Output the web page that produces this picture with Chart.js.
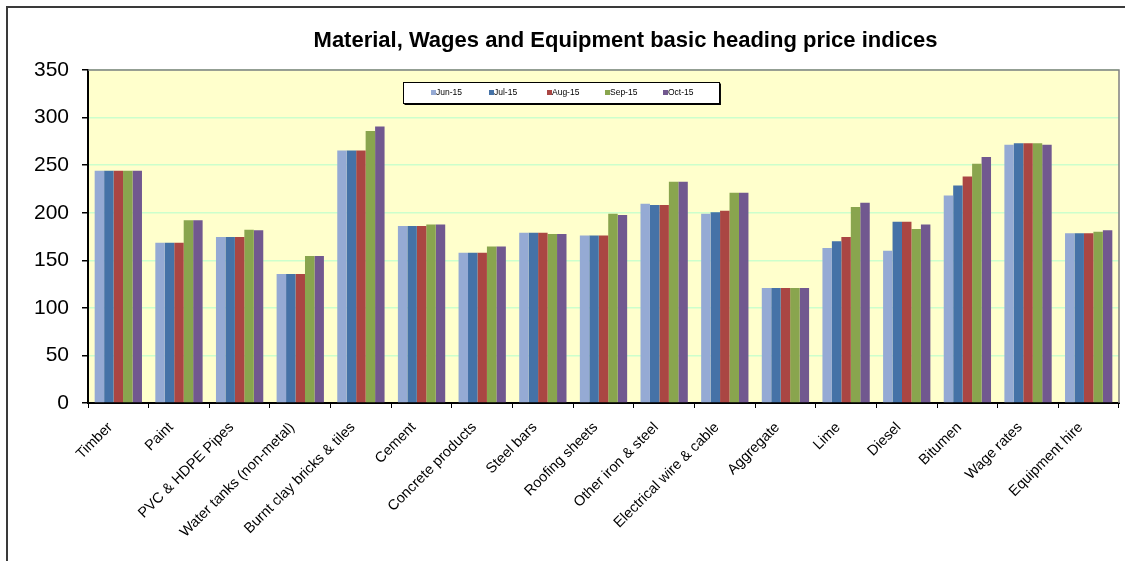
<!DOCTYPE html>
<html>
<head>
<meta charset="utf-8">
<script src="https://cdn.jsdelivr.net/npm/chart.js@4.4.1/dist/chart.umd.min.js"></script>
<style>
    html, body { margin: 0; padding: 0; background: #fff; }
    #wrap { position: relative; width: 1125px; height: 561px; overflow: hidden; }
    #frame { position: absolute; left: 6px; top: 6px; width: 1200px; height: 600px;
             border-left: 2px solid #3a3a3a; border-top: 2px solid #3a3a3a; box-sizing: border-box; }
    #chart { position: absolute; left: 0; top: 0; }
</style>
</head>
<body>
<div id="wrap">
    <div id="frame"></div>
    <canvas id="chart" width="1125" height="561"></canvas>
</div>
<script>
// Catégories et indices
const categories = ['Timber', 'Paint', 'PVC & HDPE Pipes', 'Water tanks (non-metal)', 'Burnt clay bricks & tiles',
    'Cement', 'Concrete products', 'Steel bars', 'Roofing sheets', 'Other iron & steel',
    'Electrical wire & cable', 'Aggregate', 'Lime', 'Diesel', 'Bitumen', 'Wage rates', 'Equipment hire'];
const seriesLabels = ['Jun-15', 'Jul-15', 'Aug-15', 'Sep-15', 'Oct-15'];
const jun15 = [244, 168.5, 174.5, 135.5, 265.5, 186, 158, 179, 176, 209.5, 199, 121, 163, 160, 218, 271.5, 178.5];
const jul15 = [244, 168.5, 174.5, 135.5, 265.5, 186, 158, 179, 176, 208, 200.5, 121, 170, 190.5, 228.5, 273, 178.5];
const aug15 = [244, 168.5, 174.5, 135.5, 265.5, 186, 158, 179, 176, 208, 202, 121, 174.5, 190.5, 238, 273, 178.5];
const sep15 = [244, 192, 182, 154.5, 286, 187.5, 164.5, 177.5, 199, 232.5, 221, 121, 206, 183, 251.5, 273, 180];
const oct15 = [244, 192, 181.5, 154.5, 290.5, 187.5, 164.5, 177.5, 197.5, 232.5, 221, 121, 210.5, 187.5, 258.5, 271.5, 181.5];
const yTicks = [0, 50, 100, 150, 200, 250, 300, 350];
const colors = ['#95AAD4', '#4572A7', '#AA4643', '#89A54E', '#71588F'];

const allSeries = [jun15, jul15, aug15, sep15, oct15];

// Fond de la zone de tracé + cadre gris + légende encadrée dans la zone
const plotDecor = {
    id: 'plotDecor',
    afterLayout(chart) {
        // le titre est un peu décalé à droite dans l'original
        if (chart.titleBlock) { chart.titleBlock.left += 22; chart.titleBlock.right += 22; }
    },
    beforeDraw(chart) {
        const { ctx, chartArea: a } = chart;
        ctx.save();
        ctx.fillStyle = '#FFFFCC';
        ctx.fillRect(a.left, a.top, a.right - a.left, a.bottom - a.top);
        ctx.restore();
    },
    afterDraw(chart) {
        const { ctx, chartArea: a } = chart;
        ctx.save();
        // bord gris haut / droite
        ctx.strokeStyle = '#808080';
        ctx.lineWidth = 1.5;
        ctx.beginPath();
        ctx.moveTo(a.left, a.top);
        ctx.lineTo(a.right, a.top);
        ctx.lineTo(a.right, a.bottom);
        ctx.stroke();

        // légende
        const bx = a.left + 315, by = a.top + 12, bw = 316, bh = 21;
        ctx.fillStyle = '#fff';
        ctx.fillRect(bx, by, bw, bh);
        ctx.strokeStyle = '#000';
        ctx.lineWidth = 1;
        ctx.strokeRect(bx + 0.5, by + 0.5, bw, bh);
        ctx.lineWidth = 1.5;
        ctx.beginPath();
        ctx.moveTo(bx + 1.5, by + bh + 1.2);
        ctx.lineTo(bx + bw + 1.2, by + bh + 1.2);
        ctx.lineTo(bx + bw + 1.2, by + 1.5);
        ctx.stroke();

        ctx.font = '8.5px "Liberation Sans", Arial, sans-serif';
        ctx.textBaseline = 'middle';
        chart.data.datasets.forEach((ds, i) => {
            const x = bx + 28 + i * 58;
            const y = by + bh / 2 + 0.5;
            ctx.fillStyle = ds.backgroundColor;
            ctx.fillRect(x, y - 3, 5, 5);
            ctx.fillStyle = '#000';
            ctx.fillText(ds.label, x + 5, y);
        });
        ctx.restore();
    }
};

const config = {
    type: 'bar',
    data: {
        labels: categories,
        datasets: seriesLabels.map((label, i) => ({
            label: label,
            data: allSeries[i],
            backgroundColor: colors[i],
            borderWidth: 0,
            categoryPercentage: 0.78,
            barPercentage: 1.0
        }))
    },
    options: {
        responsive: false,
        animation: false,
        devicePixelRatio: 1,
        layout: { padding: { left: 0, right: 6, top: 0, bottom: 0 } },
        plugins: {
            legend: { display: false },
            tooltip: { enabled: false },
            title: {
                display: true,
                fullSize: false,
                text: 'Material, Wages and Equipment basic heading price indices',
                color: '#000',
                font: { family: '"Liberation Sans", Arial, sans-serif', size: 22, weight: 'bold' },
                padding: { top: 28, bottom: 15.6 }
            }
        },
        scales: {
            x: {
                afterFit: (scale) => { scale.height = 158; },
                grid: { display: true, drawOnChartArea: false, offset: true, color: '#000', tickColor: '#000', tickLength: 5 },
                border: { display: true, color: '#000', width: 2 },
                ticks: {
                    color: '#000',
                    minRotation: 45, maxRotation: 45,
                    autoSkip: false,
                    padding: 11,
                    labelOffset: -8,
                    font: { family: '"Liberation Sans", Arial, sans-serif', size: 14.5 }
                }
            },
            y: {
                min: 0, max: 350,
                afterFit: (scale) => { scale.width = 88; },
                afterBuildTicks: (scale) => { scale.ticks = yTicks.map(v => ({ value: v })); },
                grid: { color: '#CCFFCC', lineWidth: 1.5, tickColor: '#000', tickLength: 6 },
                border: { display: true, color: '#000', width: 2 },
                ticks: {
                    color: '#000',
                    padding: 13,
                    font: { family: '"Liberation Sans", Arial, sans-serif', size: 21 }
                }
            }
        }
    },
    plugins: [plotDecor]
};

new Chart(document.getElementById('chart').getContext('2d'), config);
</script>
</body>
</html>
